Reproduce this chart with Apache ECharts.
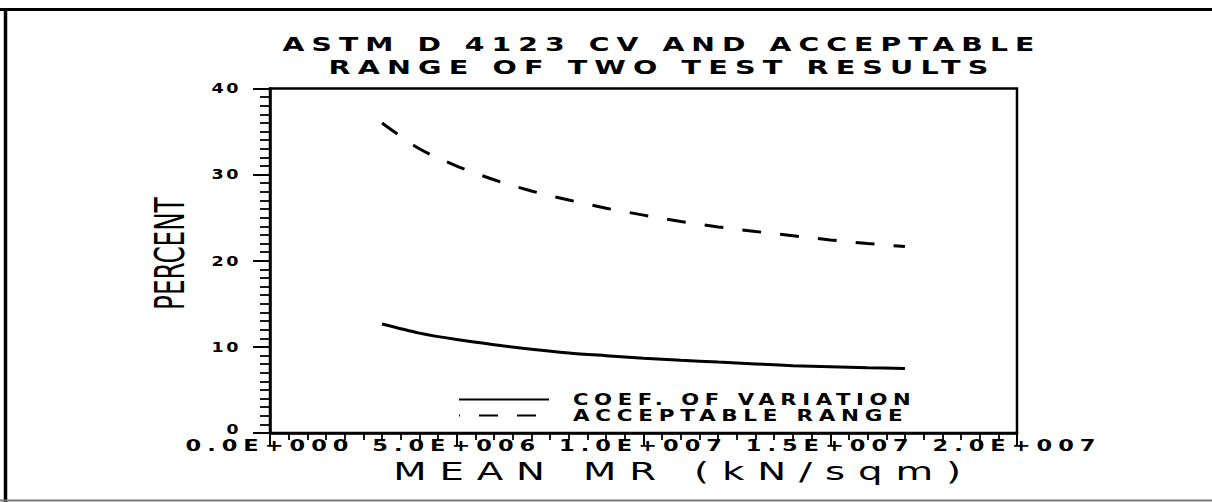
<!DOCTYPE html>
<html>
<head>
<meta charset="utf-8">
<script src="https://cdn.jsdelivr.net/npm/echarts@6/dist/echarts.min.js"></script>
<style>
html, body { margin: 0; padding: 0; background: #fff; }
#c { width: 1212px; height: 502px; }
</style>
</head>
<body>
<div id="c"></div>
<script>
// Mean resilient modulus (kN/sqm)
const xValues = [3.0e6, 4.0e6, 5.0e6, 6.0e6, 7.0e6, 8.0e6, 9.0e6, 10.0e6, 11.0e6, 12.0e6, 13.0e6, 14.0e6, 15.0e6, 16.0e6, 17.0e6];
// Coefficient of variation (%)
const cvValues = [12.65, 11.6, 10.85, 10.25, 9.72, 9.29, 8.98, 8.69, 8.45, 8.23, 8.02, 7.82, 7.7, 7.59, 7.5];
// Acceptable range of two test results (%)
const rangeValues = [36.0, 33.0, 31.0, 29.4, 28.1, 27.05, 26.1, 25.3, 24.55, 23.93, 23.4, 22.9, 22.42, 22.0, 21.65];
const seriesNames = ['COEF. OF VARIATION', 'ACCEPTABLE RANGE'];
const xTickValues = [0, 5e6, 1e7, 1.5e7, 2e7];
const xTickLabels = ['0.0E+000', '5.0E+006', '1.0E+007', '1.5E+007', '2.0E+007'];
const yTickLabels = ['0', '10', '20', '30', '40'];
const titleLines = ['ASTM D 4123 CV AND ACCEPTABLE', 'RANGE OF TWO TEST RESULTS'];
const xName = 'MEAN MR (kN/sqm)';
const yName = 'PERCENT';

const chart = echarts.init(document.getElementById('c'), null, { renderer: 'svg', width: 1212, height: 502 });

const FONT = "'DejaVu Sans', sans-serif";

const option = {
  animation: false,
  backgroundColor: '#fff',
  title: {
    text: titleLines.join('\n'),
    left: 662,
    top: 33,
    textAlign: 'center',
    padding: 0,
    textStyle: { fontFamily: FONT, fontSize: 20, fontWeight: 'bold', color: '#000', lineHeight: 23 }
  },
  legend: {
    orient: 'vertical',
    left: 458,
    top: 392,
    padding: 0,
    itemWidth: 90,
    itemHeight: 14,
    itemGap: 1,
    selectedMode: false,
    data: seriesNames,
    itemStyle: { opacity: 0 },
    lineStyle: { dashOffset: 18 },
    textStyle: { fontFamily: FONT, fontSize: 15, fontWeight: 'bold', color: '#000', padding: [0, 0, 0, 19] }
  },
  grid: {
    left: 270, right: 195, top: 88.5, bottom: 69,
    outerBoundsMode: 'none',
    show: true,
    borderColor: '#000',
    borderWidth: 2.5,
    backgroundColor: 'transparent'
  },
  xAxis: {
    type: 'value',
    min: 0, max: 2e7, interval: 5e6,
    name: xName,
    nameLocation: 'middle',
    nameGap: 22,
    nameTextStyle: { fontFamily: FONT, fontSize: 24, color: '#000', padding: [0, 0, 0, 80] },
    axisLine: { show: true, lineStyle: { color: '#000', width: 2.5 } },
    axisTick: { show: true, length: 13, lineStyle: { color: '#000', width: 2 } },
    minorTick: { show: true, splitNumber: 10, length: 7, lineStyle: { color: '#000', width: 1.8 } },
    splitLine: { show: false },
    minorSplitLine: { show: false },
    axisLabel: {
      margin: 4,
      lineHeight: 18,
      fontFamily: FONT, fontSize: 15, fontWeight: 'bold', color: '#000',
      formatter: function (v) {
        const i = xTickValues.indexOf(v);
        return i >= 0 ? xTickLabels[i] : '';
      }
    }
  },
  yAxis: {
    type: 'value',
    min: 0, max: 40, interval: 10,
    name: yName,
    nameLocation: 'middle',
    nameGap: 80,
    nameRotate: 90,
    nameTextStyle: { fontFamily: FONT, fontSize: 40, color: '#000', padding: [0, 0, 0, 14] },
    axisLine: { show: true, lineStyle: { color: '#000', width: 2.5 } },
    axisTick: { show: true, length: 17, lineStyle: { color: '#000', width: 2 } },
    minorTick: { show: true, splitNumber: 10, length: 10, lineStyle: { color: '#000', width: 1.8 } },
    splitLine: { show: false },
    minorSplitLine: { show: false },
    axisLabel: {
      margin: 29,
      lineHeight: 10,
      fontFamily: FONT, fontSize: 14, fontWeight: 'bold', color: '#000',
      formatter: function (v) {
        const s = yTickLabels[Math.round(v / 10)];
        return v === 0 ? '{z|' + s + '}' : s;
      },
      rich: { z: { fontFamily: FONT, fontSize: 14, fontWeight: 'bold', color: '#000', padding: [0, 0, 8, 0] } }
    }
  },
  graphic: [
    { type: 'line', silent: true, shape: { x1: 0, y1: 9.5, x2: 1212, y2: 9.5 }, style: { stroke: '#000', lineWidth: 3 } },
    { type: 'line', silent: true, shape: { x1: 5.5, y1: 8, x2: 5.5, y2: 502 }, style: { stroke: '#000', lineWidth: 3.5 } },
    { type: 'line', silent: true, shape: { x1: 0, y1: 500.5, x2: 1212, y2: 500.5 }, style: { stroke: '#777', lineWidth: 2 } }
  ],
  series: [
    {
      type: 'line',
      name: seriesNames[0],
      data: xValues.map((x, i) => [x, cvValues[i]]),
      symbol: 'none',
      smooth: 0.3,
      lineStyle: { color: '#000', width: 3, type: 'solid' },
      itemStyle: { color: '#000' }
    },
    {
      type: 'line',
      name: seriesNames[1],
      data: xValues.map((x, i) => [x, rangeValues[i]]),
      symbol: 'none',
      smooth: 0.3,
      lineStyle: { color: '#000', width: 3, type: [19, 19], dashOffset: 0 },
      itemStyle: { color: '#000' }
    }
  ]
};
chart.setOption(option);

// Widen the lettering to imitate the plotter's extended stroke font:
// letter spacing plus a horizontal stretch about each text's anchor.
const textLook = new Map();
textLook.set(titleLines[0], { ls: 5, w: 752 });
textLook.set(titleLines[1], { ls: 5, w: 660 });
textLook.set(seriesNames[0], { ls: 4, w: 338 });
textLook.set(seriesNames[1], { ls: 4, w: 330 });
xTickLabels.forEach(s => textLook.set(s, { ls: 4, w: 163 }));
yTickLabels.forEach(s => textLook.set(s, { ls: 2, w: s.length > 1 ? 27 : 12 }));
textLook.set(xName, { ls: 8, w: 568 });
textLook.set(yName, { ls: 0, w: 113 });

function restyleTexts() {
  const texts = document.querySelectorAll('#c svg text');
  texts.forEach(t => {
    if (t.getAttribute('data-look')) return;
    const cfg = textLook.get(t.textContent.trim());
    if (!cfg) return;
    t.setAttribute('data-look', '1');
    t.style.letterSpacing = cfg.ls + 'px';
    const bb = t.getBBox();
    if (!bb.width) return;
    const glyphW = bb.width - cfg.ls;
    const sx = cfg.w / glyphW;
    const anchor = t.getAttribute('text-anchor') || 'start';
    const ax = anchor === 'middle' ? bb.x + bb.width / 2 : (anchor === 'end' ? bb.x + bb.width : bb.x);
    const ay = bb.y + bb.height / 2;
    const tr = t.getAttribute('transform') || '';
    t.setAttribute('transform', (tr + ' translate(' + ax + ',' + ay + ') scale(' + sx + ',1) translate(' + (-ax) + ',' + (-ay) + ')').trim());
  });
}
restyleTexts();
chart.on('finished', restyleTexts);
</script>
</body>
</html>
